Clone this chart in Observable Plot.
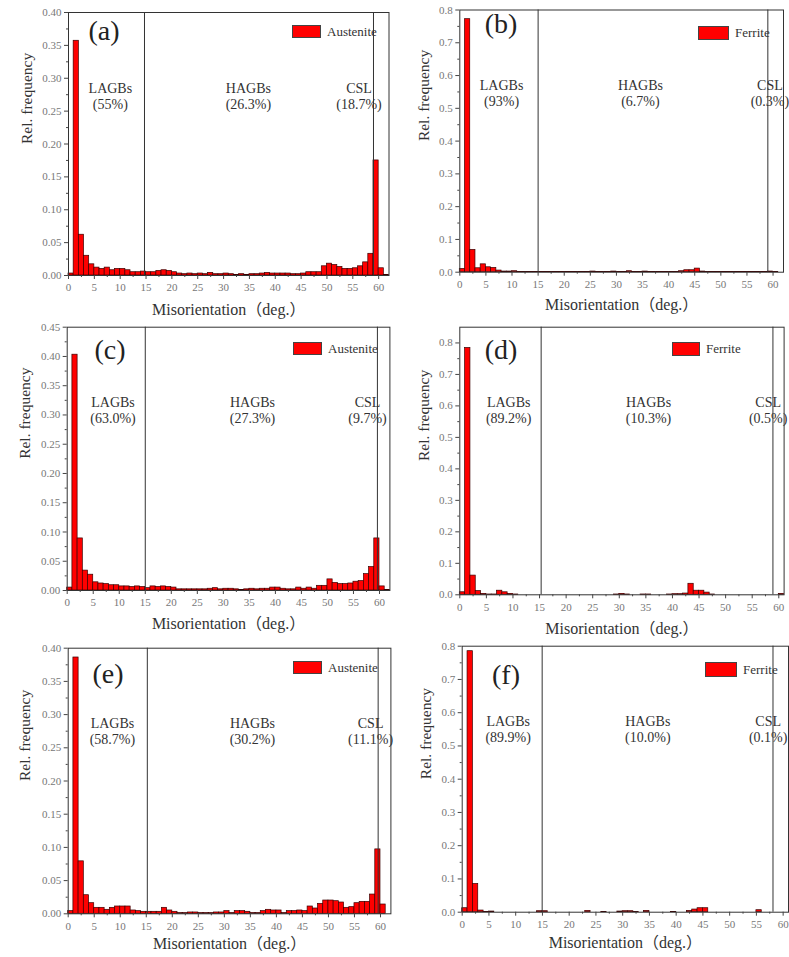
<!DOCTYPE html>
<html><head><meta charset="utf-8">
<script src="https://cdn.jsdelivr.net/npm/d3@7"></script>
<script src="https://cdn.jsdelivr.net/npm/@observablehq/plot@0.6"></script>
<style>
body{margin:0;background:#fff;}
#root{position:relative;width:789px;height:957px;overflow:hidden;font-family:"Liberation Serif","Times New Roman","Noto Sans CJK SC",serif;}
.panel{position:absolute;}
.panel svg{overflow:visible;}
.plabel{position:absolute;transform:translate(-50%,-50%);font-size:28px;color:#222;white-space:nowrap;line-height:1;}
.leg{position:absolute;display:flex;align-items:center;font-size:13px;color:#333;white-space:nowrap;}
.sw{background:#ff0000;border:1px solid #444;box-sizing:border-box;margin-right:6px;}
</style></head><body><div id="root"></div>
<script>
// ---------- data ----------
const binStart = d3.range(0, 62); // 1-degree bins: [0,1), [1,2) ... [61,62)
const xTicks = [0, 5, 10, 15, 20, 25, 30, 35, 40, 45, 50, 55, 60];
const yTicksAust = [0, 0.05, 0.10, 0.15, 0.20, 0.25, 0.30, 0.35, 0.40];
const yTicksAustC = [0, 0.05, 0.10, 0.15, 0.20, 0.25, 0.30, 0.35, 0.40, 0.45];
const yTicksFerr = [0, 0.1, 0.2, 0.3, 0.4, 0.5, 0.6, 0.7, 0.8];
const regionNames = ["LAGBs", "HAGBs", "CSL"];

const austeniteA = [0.003,0.357,0.062,0.030,0.017,0.012,0.010,0.012,0.008,0.010,
  0.010,0.008,0.005,0.005,0.006,0.005,0.005,0.007,0.008,0.007,
  0.005,0.003,0.002,0.003,0.002,0.003,0.002,0.004,0.002,0.002,
  0.003,0.002,0.001,0.002,0.001,0.002,0.002,0.003,0.004,0.003,
  0.003,0.003,0.003,0.002,0.002,0.003,0.005,0.005,0.005,0.014,
  0.018,0.016,0.013,0.010,0.010,0.011,0.014,0.020,0.033,0.175,
  0.011,0.001];
const ferriteB = [0.010,0.772,0.068,0.012,0.024,0.015,0.013,0.005,0.002,0.002,
  0.003,0.001,0.001,0.001,0.001,0.001,0.001,0.001,0.001,0.001,
  0.001,0.001,0.001,0.001,0.001,0.002,0.001,0.001,0.001,0.002,
  0.001,0.001,0.003,0.001,0.001,0.002,0.001,0.001,0.001,0.001,
  0.001,0.001,0.003,0.006,0.006,0.011,0.002,0.001,0.001,0.001,
  0.001,0.001,0.001,0.001,0.001,0.001,0.001,0.001,0.001,0.002,
  0.001,0.000];
const austeniteC = [0.005,0.403,0.089,0.034,0.027,0.014,0.012,0.011,0.009,0.009,
  0.007,0.007,0.006,0.007,0.006,0.004,0.007,0.006,0.007,0.006,
  0.005,0.002,0.002,0.002,0.002,0.002,0.002,0.003,0.004,0.002,
  0.003,0.003,0.002,0.001,0.002,0.003,0.002,0.003,0.003,0.005,
  0.005,0.003,0.002,0.002,0.005,0.003,0.005,0.003,0.008,0.008,
  0.019,0.013,0.011,0.011,0.012,0.015,0.016,0.028,0.040,0.089,
  0.007,0.001];
const ferriteD = [0.008,0.784,0.061,0.012,0.003,0.001,0.001,0.013,0.008,0.003,
  0.001,0.000,0.000,0.000,0.000,0.000,0.000,0.000,0.000,0.000,
  0.000,0.000,0.000,0.000,0.000,0.000,0.000,0.000,0.000,0.001,
  0.003,0.001,0.000,0.000,0.001,0.001,0.000,0.000,0.000,0.001,
  0.002,0.002,0.004,0.035,0.013,0.013,0.007,0.001,0.000,0.000,
  0.000,0.000,0.000,0.000,0.000,0.000,0.000,0.000,0.000,0.000,
  0.003,0.000];
const austeniteE = [0.004,0.386,0.079,0.028,0.016,0.009,0.009,0.006,0.009,0.011,
  0.011,0.011,0.005,0.004,0.003,0.003,0.003,0.003,0.009,0.005,
  0.003,0.001,0.001,0.002,0.002,0.001,0.001,0.001,0.002,0.002,
  0.004,0.001,0.004,0.004,0.003,0.001,0.001,0.004,0.006,0.005,
  0.005,0.001,0.004,0.004,0.005,0.004,0.011,0.008,0.015,0.020,
  0.020,0.019,0.017,0.009,0.010,0.016,0.018,0.018,0.029,0.097,
  0.014,0.000];
const ferriteF = [0.012,0.785,0.085,0.005,0.001,0.002,0.000,0.000,0.000,0.000,
  0.000,0.000,0.000,0.000,0.003,0.003,0.000,0.000,0.000,0.000,
  0.000,0.000,0.000,0.004,0.000,0.000,0.001,0.000,0.000,0.002,
  0.003,0.003,0.001,0.000,0.004,0.000,0.000,0.000,0.000,0.001,
  0.000,0.000,0.004,0.008,0.012,0.012,0.000,0.000,0.000,0.000,
  0.000,0.000,0.000,0.000,0.000,0.006,0.000,0.000,0.000,0.000,
  0.000,0.000];

const pctA = ["(55%)", "(26.3%)", "(18.7%)"];
const pctB = ["(93%)", "(6.7%)", "(0.3%)"];
const pctC = ["(63.0%)", "(27.3%)", "(9.7%)"];
const pctD = ["(89.2%)", "(10.3%)", "(0.5%)"];
const pctE = ["(58.7%)", "(30.2%)", "(11.1%)"];
const pctF = ["(89.9%)", "(10.0%)", "(0.1%)"];

// ---------- layout ----------
const FONT = '"Liberation Serif","Times New Roman","Noto Sans CJK SC",serif';
const panels = [
  {id:"(a)", phase:"Austenite", values:austeniteA, pct:pctA, yTicks:yTicksAust, fmt:".2f", yMax:0.40, xMax:62,
   left:0, top:0, width:395, height:318, ml:68, mr:6.5, mt:12, mb:43, bounds:[14.7,59], rx:[8.1,34.8,56.2],
   xl:34, yl:-41, lab:[104,31], leg:[292,25,29,13]},
  {id:"(b)", phase:"Ferrite", values:ferriteB, pct:pctB, yTicks:yTicksFerr, fmt:".1f", yMax:0.8, xMax:62,
   left:395, top:0, width:394, height:318, ml:64.3, mr:6, mt:9.5, mb:46.3, bounds:[15,59], rx:[8,34.6,59.4],
   xl:33, yl:-36, lab:[501,24], leg:[698,26,31,14]},
  {id:"(c)", phase:"Austenite", values:austeniteC, pct:pctC, yTicks:yTicksAustC, fmt:".2f", yMax:0.45, xMax:62,
   left:0, top:318, width:395, height:316, ml:66.7, mr:5.6, mt:8.7, mb:44, bounds:[15,59.6], rx:[8.8,35.6,57.7],
   xl:33, yl:-42, lab:[110,350], leg:[293,342,29,13]},
  {id:"(d)", phase:"Ferrite", values:ferriteD, pct:pctD, yTicks:yTicksFerr, fmt:".1f", yMax:0.85, xMax:61,
   left:395, top:318, width:394, height:316, ml:64.3, mr:5.4, mt:8.7, mb:39.7, bounds:[15.3,58.9], rx:[9.2,35.5,58.0],
   xl:34, yl:-36, lab:[501,350], leg:[672,342,28,14]},
  {id:"(e)", phase:"Austenite", values:austeniteE, pct:pctE, yTicks:yTicksAust, fmt:".2f", yMax:0.40, xMax:62,
   left:0, top:634, width:395, height:323, ml:67.7, mr:4.6, mt:13.7, mb:43.7, bounds:[15.2,59.55], rx:[8.5,35.4,58.1],
   xl:30, yl:-43, lab:[108,674], leg:[293,661,29,13]},
  {id:"(f)", phase:"Ferrite", values:ferriteF, pct:pctF, yTicks:yTicksFerr, fmt:".1f", yMax:0.8, xMax:61,
   left:395, top:634, width:394, height:323, ml:66.7, mr:1, mt:11.7, mb:45.3, bounds:[14.95,58.1], rx:[8.6,34.7,57.2],
   xl:31, yl:-36, lab:[506,675], leg:[705,662,32,15]}
];

const root = document.getElementById("root");

for (const p of panels) {
  const bars = binStart.map((b, i) => ({x1: b, x2: b + 1, y: p.values[i]})).filter(d => d.x2 <= p.xMax + 1e-9);
  const regions = regionNames.map((n, i) => ({x: p.rx[i], t: n + "\n" + p.pct[i]}));
  const yMinor = p.yTicks.slice(0, -1).map((v, i) => (v + p.yTicks[i + 1]) / 2);
  const xMinor = xTicks.map(v => v + 2.5).filter(v => v < p.xMax);
  const fmt = d3.format(p.fmt);

  const chart = Plot.plot({
    width: p.width, height: p.height,
    marginLeft: p.ml, marginRight: p.mr, marginTop: p.mt, marginBottom: p.mb,
    style: {fontFamily: FONT, background: "transparent", overflow: "visible"},
    x: {domain: [0, p.xMax]},
    y: {domain: [0, p.yMax]},
    marks: [
      Plot.rectY(bars, {x1: "x1", x2: "x2", y: "y", fill: "#ff0000", stroke: "#3a0000", strokeWidth: 0.7}),
      Plot.ruleX(p.bounds, {stroke: "#333", strokeWidth: 1}),
      Plot.frame({stroke: "#333", strokeWidth: 1}),
      Plot.axisX({ticks: xTicks, tickSize: 4, tickPadding: 4, tickFormat: d => String(d), fontSize: 11,
                  fontFamily: FONT, stroke: "#444", fill: "#777", label: null}),
      Plot.axisX({ticks: xMinor, tickSize: 2, tickFormat: () => "", stroke: "#444", label: null}),
      Plot.axisY({ticks: p.yTicks, tickSize: 4, tickPadding: 3, tickFormat: fmt, fontSize: 11,
                  fontFamily: FONT, stroke: "#444", fill: "#777", label: null}),
      Plot.axisY({ticks: yMinor, tickSize: 2, tickFormat: () => "", stroke: "#444", label: null}),
      Plot.text(regions, {x: "x", text: "t", frameAnchor: "top", dy: 83, lineAnchor: "middle",
                          lineHeight: 1.15, fontSize: 14, fontFamily: FONT, fill: "#333"}),
      Plot.text(["Misorientation（deg.）"], {text: d => d, frameAnchor: "bottom", dy: p.xl, lineAnchor: "middle",
                          fontSize: 16, fontFamily: FONT, fill: "#333"}),
      Plot.text(["Rel. frequency"], {text: d => d, frameAnchor: "left", dx: p.yl, rotate: -90,
                          fontSize: 15.5, fontFamily: FONT, fill: "#333"})
    ]
  });
  const holder = document.createElement("div");
  holder.className = "panel";
  holder.style.left = p.left + "px";
  holder.style.top = p.top + "px";
  holder.appendChild(chart);
  root.appendChild(holder);

  const lab = document.createElement("div");
  lab.className = "plabel";
  lab.style.left = p.lab[0] + "px";
  lab.style.top = p.lab[1] + "px";
  lab.textContent = p.id;
  root.appendChild(lab);

  const leg = document.createElement("div");
  leg.className = "leg";
  leg.style.left = p.leg[0] + "px";
  leg.style.top = p.leg[1] + "px";
  leg.style.height = p.leg[3] + "px";
  const sw = document.createElement("span");
  sw.className = "sw";
  sw.style.width = p.leg[2] + "px";
  sw.style.height = p.leg[3] + "px";
  sw.style.display = "inline-block";
  const tx = document.createElement("span");
  tx.textContent = p.phase;
  leg.appendChild(sw);
  leg.appendChild(tx);
  root.appendChild(leg);
}
</script>
</body></html>
